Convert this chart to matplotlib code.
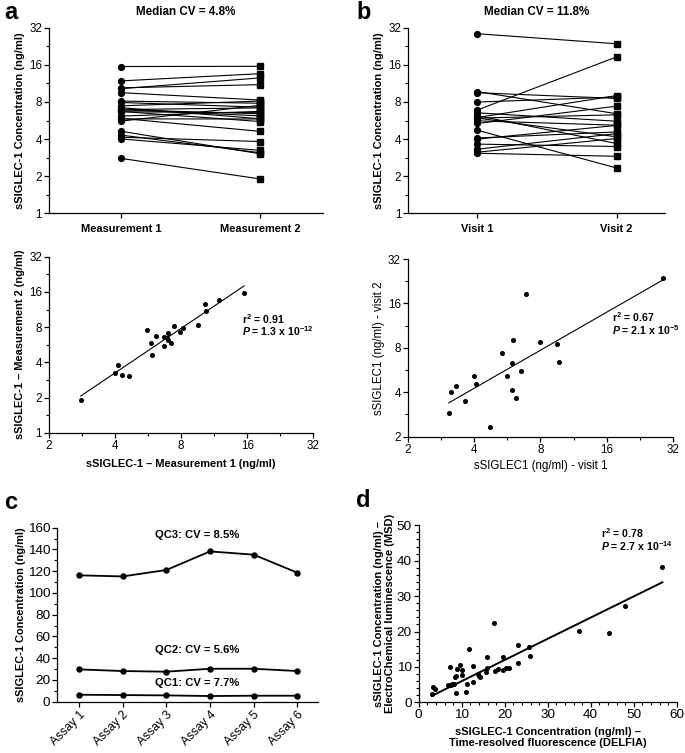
import numpy as np
import matplotlib
matplotlib.use('Agg')
import matplotlib.pyplot as plt
from matplotlib.ticker import FixedLocator, NullFormatter, MultipleLocator

plt.rcParams['font.family'] = ['Liberation Sans', 'DejaVu Sans']
plt.rcParams['mathtext.fontset'] = 'custom'
plt.rcParams['mathtext.rm'] = 'Liberation Sans:bold'
plt.rcParams['mathtext.it'] = 'Liberation Sans:bold:italic'
plt.rcParams['mathtext.bf'] = 'Liberation Sans:bold'

# panel a: repeat measurement of the same samples (ng/ml)
meas1 = [2.79, 4.14, 4.01, 4.31, 4.63, 5.59, 5.83, 5.89, 6.14, 6.66, 6.70, 6.94,
         6.91, 6.94, 7.19, 7.44, 7.92, 8.13, 9.51, 10.24, 10.41, 11.85, 15.5]
meas2 = [1.90, 3.82, 3.24, 3.10, 3.04, 7.51, 5.82, 4.62, 6.71, 6.54, 5.55, 7.16,
         6.42, 6.17, 5.85, 8.13, 7.26, 7.81, 8.29, 12.53, 11.05, 13.56, 15.56]

# panel b: two visits of the same subjects (ng/ml)
visit1 = [3.07, 3.13, 3.31, 3.64, 4.00, 4.08, 5.35, 5.62, 5.92, 5.92, 5.98, 6.19,
          6.53, 6.88, 7.98, 9.50, 9.70, 4.72, 28.6]
visit2 = [2.90, 4.04, 4.43, 3.48, 5.16, 4.57, 7.39, 5.18, 6.29, 4.17, 9.01, 3.68,
          5.58, 18.56, 8.77, 8.54, 6.42, 2.33, 23.7]

# panel c: QC samples across assays
assays = ['Assay 1', 'Assay 2', 'Assay 3', 'Assay 4', 'Assay 5', 'Assay 6']
qc3 = [116.2, 115.2, 121.1, 138.2, 135.2, 118.6]
qc2 = [29.7, 28.2, 27.6, 30.3, 30.3, 28.2]
qc1 = [6.4, 6.1, 5.8, 5.2, 5.5, 5.5]
qc_labels = ['QC3: CV = 8.5%', 'QC2: CV = 5.6%', 'QC1: CV = 7.7%']

# panel d: DELFIA vs MSD
delfia = [3.02, 3.26, 3.79, 6.88, 7.44, 7.28, 7.67, 8.21, 8.51, 8.84, 8.67, 8.67,
          9.6, 10.07, 10.14, 11.0, 11.3, 11.63, 12.56, 12.56, 13.86, 14.02, 14.26,
          15.65, 15.81, 15.81, 17.58, 17.74, 18.37, 19.67, 19.53, 20.3, 21.0,
          23.16, 23.16, 25.65, 25.95, 37.2, 44.26, 47.98, 56.66]
msd = [2.26, 4.41, 3.76, 4.8, 4.8, 10.06, 5.08, 5.08, 7.06, 9.41, 2.54, 7.43,
       10.5, 7.71, 9.2, 3.0, 5.25, 15.14, 10.34, 5.73, 7.9, 7.43, 7.23,
       8.56, 9.6, 12.8, 22.3, 8.93, 9.41, 12.8, 9.04, 9.6, 9.69,
       16.27, 11.19, 15.7, 13.0, 20.2, 19.5, 27.1, 38.3]

W, H = 685, 753
fig = plt.figure(figsize=(W / 100, H / 100), dpi=100)


def px_axes(left, top, right, bottom):
    return fig.add_axes([left / W, 1 - bottom / H, (right - left) / W, (bottom - top) / H])


def style(ax, size=8.4):
    for s in ['top', 'right']:
        ax.spines[s].set_visible(False)
    for s in ['left', 'bottom']:
        ax.spines[s].set_linewidth(0.9)
    ax.tick_params(which='major', length=3.5, width=0.9, labelsize=size, pad=1.5)
    ax.tick_params(which='minor', length=2, width=0.8)


def log2_axis(axis, lo, hi):
    maj = [2 ** k for k in range(lo, hi + 1)]
    axis.set_major_locator(FixedLocator(maj))
    axis.set_ticklabels([str(v) for v in maj])
    axis.set_minor_locator(FixedLocator([2 ** (k + 0.5) for k in range(lo, hi)]))
    axis.set_minor_formatter(NullFormatter())


def stats_text(ax, x, y, r2, mant, expo):
    ax.text(x, y, r'r$^{2}$ = ' + r2, transform=ax.transAxes, fontsize=7.6,
            fontweight='bold', va='center')
    ax.text(x, y - 12.5 / (ax.bbox.height), r'$P$ = ' + mant + r' x 10$^{' + expo + '}$',
            transform=ax.transAxes, fontsize=7.6, fontweight='bold', va='center')


def paired(ax, v1, v2, names, title, lim):
    for a, b in zip(v1, v2):
        ax.plot([0, 1], [a, b], color='black', lw=0.8, zorder=1)
    ax.plot(np.zeros(len(v1)), v1, 'o', color='black', ms=4.2, zorder=2)
    ax.plot(np.ones(len(v2)), v2, 's', color='black', ms=4.2, zorder=2)
    ax.set_yscale('log', base=2)
    ax.set_ylim(1, 32)
    ax.set_xlim(*lim)
    style(ax)
    log2_axis(ax.yaxis, 0, 5)
    ax.set_xticks([0, 1])
    ax.set_xticklabels(names, fontsize=7.9, fontweight='bold')
    ax.tick_params(axis='x', pad=4)
    ax.set_ylabel('sSIGLEC-1 Concentration (ng/ml)', fontsize=8, fontweight='bold', labelpad=3)
    ax.text(0.5, 1.085, title, transform=ax.transAxes, ha='center', va='center',
            fontsize=8.4, fontweight='bold')


def loglog_fit(ax, x, y):
    lx, ly = np.log2(x), np.log2(y)
    k, c = np.polyfit(lx, ly, 1)
    xs = np.array([lx.min(), lx.max()])
    ax.plot(2 ** xs, 2 ** (k * xs + c), color='black', lw=0.8)


# ---- a (top)
ax = px_axes(49, 27.7, 323, 213.3)
paired(ax, meas1, meas2, ['Measurement 1', 'Measurement 2'], 'Median CV = 4.8%', (-0.516, 1.453))

# ---- b (top)
ax = px_axes(408.3, 27.7, 665, 213.3)
paired(ax, visit1, visit2, ['Visit 1', 'Visit 2'], 'Median CV = 11.8%', (-0.495, 1.347))

# ---- a (bottom)
ax = px_axes(49, 256.7, 313.3, 432.7)
ax.plot(meas1, meas2, 'o', color='black', ms=2.6)
loglog_fit(ax, np.array(meas1), np.array(meas2))
ax.set_xscale('log', base=2)
ax.set_yscale('log', base=2)
ax.set_xlim(2, 32)
ax.set_ylim(1, 32)
style(ax)
log2_axis(ax.xaxis, 1, 5)
log2_axis(ax.yaxis, 0, 5)
ax.set_xlabel('sSIGLEC-1 – Measurement 1 (ng/ml)', fontsize=7.95, fontweight='bold', labelpad=5)
ax.set_ylabel('sSIGLEC-1 – Measurement 2 (ng/ml)', fontsize=7.95, fontweight='bold', labelpad=3)
stats_text(ax, 0.732, 0.647, '0.91', '1.3', '-12')

# ---- b (bottom)
ax = px_axes(407.7, 259, 673.3, 436.7)
ax.plot(visit1, visit2, 'o', color='black', ms=2.6)
loglog_fit(ax, np.array(visit1), np.array(visit2))
ax.set_xscale('log', base=2)
ax.set_yscale('log', base=2)
ax.set_xlim(2, 32)
ax.set_ylim(2, 32)
style(ax)
log2_axis(ax.xaxis, 1, 5)
log2_axis(ax.yaxis, 1, 5)
ax.set_xlabel('sSIGLEC1 (ng/ml) - visit 1', fontsize=8.3, labelpad=3)
ax.set_ylabel('sSIGLEC1 (ng/ml) - visit 2', fontsize=8.3, labelpad=2)
stats_text(ax, 0.771, 0.672, '0.67', '2.1', '-5')

# ---- c
ax = px_axes(57.3, 527.7, 318.3, 701.7)
xs = np.arange(1, len(assays) + 1)
for vals in [qc3, qc2, qc1]:
    ax.plot(xs, vals, '-o', color='black', lw=1.3, ms=3.6)
ax.set_xlim(0.504, 6.48)
ax.set_ylim(0, 160)
style(ax, 9.7)
ax.yaxis.set_major_locator(MultipleLocator(20))
ax.yaxis.set_minor_locator(MultipleLocator(10))
ax.set_xticks(xs)
ax.set_xticklabels(assays, rotation=45, ha='right', rotation_mode='anchor', fontsize=8.7)
ax.set_ylabel('sSIGLEC-1 Concentration (ng/ml)', fontsize=7.9, fontweight='bold', labelpad=1)
for lab, yy in zip(qc_labels, [153.3, 47.5, 16.9]):
    ax.text(3.7, yy, lab, ha='center', va='center', fontsize=8.1, fontweight='bold')

# ---- d
ax = px_axes(418.7, 525.3, 676.7, 702.3)
ax.plot(delfia, msd, 'o', color='black', ms=2.6)
dx, dy = np.array(delfia), np.array(msd)
k = np.sum(dx * dy) / np.sum(dx * dx)  # least squares through the origin
xl = np.array([dx.min(), dx.max()])
ax.plot(xl, k * xl, color='black', lw=1.4)
ax.set_xlim(0, 60)
ax.set_ylim(0, 50)
style(ax, 9.7)
ax.xaxis.set_major_locator(MultipleLocator(10))
ax.xaxis.set_minor_locator(MultipleLocator(2))
ax.yaxis.set_major_locator(MultipleLocator(10))
ax.yaxis.set_minor_locator(MultipleLocator(2))
ax.set_xlabel('sSIGLEC-1 Concentration (ng/ml) –\nTime-resolved fluorescence (DELFIA)',
              fontsize=8, fontweight='bold', labelpad=4)
ax.set_ylabel('sSIGLEC-1 Concentration (ng/ml) –\nElectroChemical luminescence (MSD)',
              fontsize=8, fontweight='bold', labelpad=1)
stats_text(ax, 0.706, 0.955, '0.78', '2.7', '-14')

# panel letters
for lab, x, y in [('a', 4, 19), ('b', 356, 19), ('c', 4, 509), ('d', 356, 507)]:
    fig.text(x / W, 1 - y / H, lab, fontsize=17, fontweight='bold', va='baseline')

fig.savefig('out.png', dpi=100)
